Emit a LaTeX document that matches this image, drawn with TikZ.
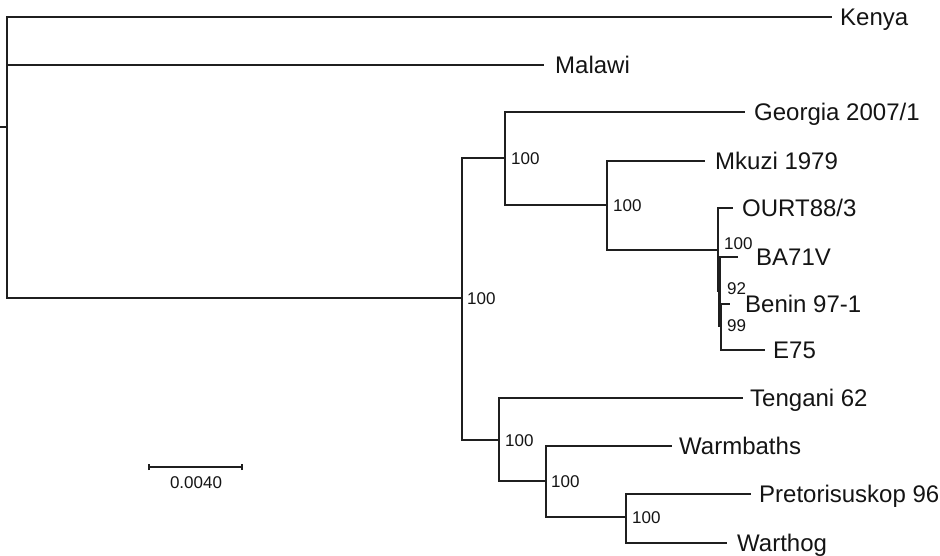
\documentclass[tikz,border=0pt]{standalone}
\usepackage{fontspec}
\setmainfont{Liberation Sans}
\begin{document}
\begin{tikzpicture}[x=1pt,y=-1pt,
  branch/.style={line width=2.2pt, draw=black!88, line join=miter},
  taxon/.style={anchor=west, inner sep=0pt, font=\fontsize{24}{28}\selectfont, text height=17.2pt, text depth=0pt, text=black!92},
  support/.style={anchor=west, inner sep=0pt, font=\fontsize{17}{20}\selectfont, text height=12.2pt, text depth=0pt, text=black!92},
]
\useasboundingbox (0,0) rectangle (940,556);

% internal nodes of the tree
\coordinate (stub) at (0,127);
\coordinate (root) at (7,127);
\coordinate (n1) at (462,298);
\coordinate (n2) at (505,158);
\coordinate (n3) at (607,205);
\coordinate (nA) at (718,250);
\coordinate (nB) at (719.5,291);
\coordinate (nC) at (721,326);
\coordinate (n6) at (499,440);
\coordinate (n7) at (546,481);
\coordinate (n8) at (626,517);

% branch tips
\coordinate (tKenya) at (832,17);
\coordinate (tMalawi) at (544,65);
\coordinate (tGeorgia) at (745,112);
\coordinate (tMkuzi) at (705,161);
\coordinate (tOurt) at (733,208);
\coordinate (tBa) at (738,257);
\coordinate (tBenin) at (730,304);
\coordinate (tE) at (765,350);
\coordinate (tTengani) at (743,398);
\coordinate (tWarm) at (672,446);
\coordinate (tPret) at (751,494);
\coordinate (tWart) at (727,543);

% branches
\draw[branch] (stub) -- (root);
\draw[branch] (root) |- (tKenya);
\draw[branch] (root) |- (tMalawi);
\draw[branch] (root) |- (n1);
\draw[branch] (n1) |- (n2);
\draw[branch] (n1) |- (n6);
\draw[branch] (n2) |- (tGeorgia);
\draw[branch] (n2) |- (n3);
\draw[branch] (n3) |- (tMkuzi);
\draw[branch] (n3) |- (nA);
\draw[branch] (nA) |- (tOurt);
\draw[branch] (nA) |- (nB);
\draw[branch] (nB) |- (tBa);
\draw[branch] (nB) |- (nC);
\draw[branch] (nC) |- (tBenin);
\draw[branch] (nC) |- (tE);
\draw[branch] (n6) |- (tTengani);
\draw[branch] (n6) |- (n7);
\draw[branch] (n7) |- (tWarm);
\draw[branch] (n7) |- (n8);
\draw[branch] (n8) |- (tPret);
\draw[branch] (n8) |- (tWart);

% taxon labels
\node[taxon] (lKenya) at (840,17) {Kenya};
\node[taxon] (lMalawi) at (555,65) {Malawi};
\node[taxon] (lGeorgia) at (754,112) {Georgia 2007/1};
\node[taxon] (lMkuzi) at (715,161) {Mkuzi 1979};
\node[taxon] (lOurt) at (742,208) {OURT88/3};
\node[taxon] (lBa) at (756,257) {BA71V};
\node[taxon] (lBenin) at (745,304) {Benin 97-1};
\node[taxon] (lE) at (773,350) {E75};
\node[taxon] (lTengani) at (750,398) {Tengani 62};
\node[taxon] (lWarm) at (679,446) {Warmbaths};
\node[taxon] (lPret) at (759,494) {Pretorisuskop 96};
\node[taxon] (lWart) at (737,543) {Warthog};

% bootstrap support values
\node[support] (s1) at (467,298) {100};
\node[support] (s2) at (511,158) {100};
\node[support] (s3) at (613,205) {100};
\node[support] (sA) at (724,243) {100};
\node[support] (sB) at (727,288) {92};
\node[support] (sC) at (727,325) {99};
\node[support] (s6) at (505,440) {100};
\node[support] (s7) at (551,481) {100};
\node[support] (s8) at (632,517) {100};

% scale bar
\coordinate (sbL) at (149,467);
\coordinate (sbR) at (242,467);
\draw[branch, line width=1.8pt] (sbL) -- (sbR);
\draw[branch, line width=1.8pt] ([yshift=-3pt]sbL) -- ([yshift=3pt]sbL);
\draw[branch, line width=1.8pt] ([yshift=-3pt]sbR) -- ([yshift=3pt]sbR);
\node[support, anchor=center] (sbText) at (196,482) {0.0040};
\end{tikzpicture}
\end{document}
